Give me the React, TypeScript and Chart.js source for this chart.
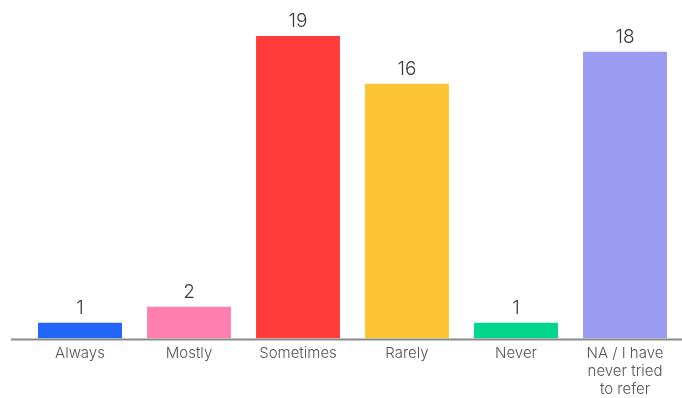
import React, { useEffect, useRef } from "react";
import { Chart, registerables } from "chart.js";

Chart.register(...registerables);

const categories: (string | string[])[] = [
  "Always",
  "Mostly",
  "Sometimes",
  "Rarely",
  "Never",
  ["NA / I have", "never tried", "to refer"],
];
const counts = [1, 2, 19, 16, 1, 18];
const barColors = ["#1f66f9", "#ff80ae", "#ff3c3c", "#ffc436", "#00d68c", "#9a9cf2"];

const valueLabels = {
  id: "valueLabels",
  afterDatasetsDraw(chart: any) {
    const ctx = chart.ctx;
    const meta = chart.getDatasetMeta(0);
    ctx.save();
    ctx.font = "300 19px Inter, 'Open Sans', sans-serif";
    ctx.fillStyle = "#3a3a3a";
    ctx.textAlign = "center";
    ctx.textBaseline = "alphabetic";
    meta.data.forEach((bar: any, i: number) => {
      ctx.fillText(String(chart.data.datasets[0].data[i]), bar.x, bar.y - 9);
    });
    ctx.restore();
  },
};

const baseLine = {
  id: "baseLine",
  afterDatasetsDraw(chart: any) {
    const ctx = chart.ctx;
    const y = chart.scales.y.getPixelForValue(0);
    ctx.save();
    ctx.strokeStyle = "#8a8a8a";
    ctx.lineWidth = 2;
    ctx.beginPath();
    ctx.moveTo(11, y + 1);
    ctx.lineTo(chart.width, y + 1);
    ctx.stroke();
    ctx.restore();
  },
};

export default function App() {
  const ref = useRef<HTMLCanvasElement>(null);
  useEffect(() => {
    if (!ref.current) return;
    const chart = new Chart(ref.current, {
      type: "bar",
      data: {
        labels: categories,
        datasets: [
          {
            data: counts,
            backgroundColor: barColors,
            borderWidth: 0,
            categoryPercentage: 1,
            barPercentage: 0.77,
          },
        ],
      },
      options: {
        animation: false,
        responsive: false,
        maintainAspectRatio: false,
        layout: { padding: { left: 25.5, right: 2.5, top: 20, bottom: -6.6 } },
        plugins: { legend: { display: false }, tooltip: { enabled: false } },
        scales: {
          x: {
            grid: { display: false, drawTicks: false },
            border: { display: false },
            ticks: {
              color: "#555555",
              font: { family: "Inter, 'Open Sans', sans-serif", size: 15, weight: "300", lineHeight: "18px" },
              padding: 6,
              maxRotation: 0,
              autoSkip: false,
            },
          },
          y: {
            display: false,
            min: 0,
            max: 20,
          },
        },
      },
      plugins: [valueLabels, baseLine],
    });
    return () => chart.destroy();
  }, []);
  return (
    <div style={{ position: "fixed", left: 0, top: 0, width: 682, height: 398, background: "#fff" }}>
      <canvas ref={ref} width={682} height={398} style={{ width: 682, height: 398 }} />
    </div>
  );
}
